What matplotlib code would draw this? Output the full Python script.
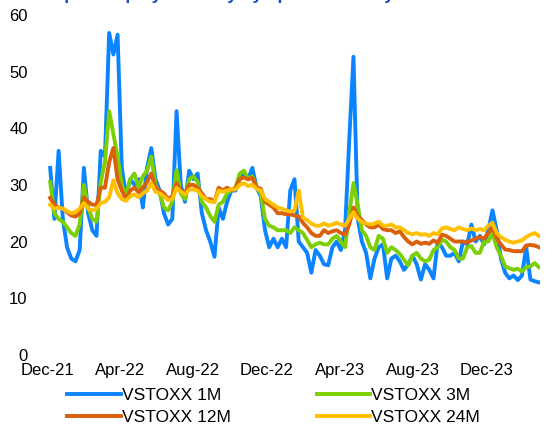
import pandas as pd
import matplotlib
matplotlib.use('Agg')
import matplotlib.pyplot as plt
import matplotlib.dates as mdates

plt.rcParams['font.family'] = ['Liberation Sans', 'DejaVu Sans']

# weekly readings, Dec 2021 - Feb 2024
dates = pd.date_range('2021-12-06', periods=117, freq='7D')

vstoxx_1m = [33, 24, 36, 24, 19, 17, 16.5, 18.5, 33, 25,
             22, 21, 36, 35, 56.8, 53, 56.5, 33, 28, 31,
             30, 31, 26, 33, 36.5, 31, 29, 25, 23, 24,
             43, 30, 27, 32.5, 31, 32, 25, 22, 20, 17.3,
             26, 24, 27, 29, 29, 31, 32, 31, 33, 29.5,
             28, 22, 19, 20.5, 19, 20.5, 19, 29, 31, 20,
             19, 18, 14.5, 18.5, 17.5, 16, 15.8, 19, 20, 18.5,
             22, 38, 52.6, 24, 20, 18, 13.5, 17, 19, 19.5,
             13.5, 17, 17.5, 16.5, 15, 16, 17.5, 16, 13.3, 16,
             15, 13.5, 20, 19, 17.5, 17.5, 18, 16.5, 20, 19.5,
             23, 20, 21, 19.5, 22, 25.5, 22, 17, 14.5, 13.5,
             14, 13.2, 14, 19, 13.3, 13, 12.8]

vstoxx_3m = [30.5, 25, 24, 23.5, 22.5, 21.5, 21, 23, 30, 26,
             24, 23.5, 30.5, 34, 43, 39, 35, 30, 28, 31,
             32, 29.5, 31.5, 32.5, 35, 30, 28.5, 26, 25.5, 27,
             32.6, 28.5, 27.5, 31, 31.5, 30.5, 27, 26, 24.5, 23.5,
             26.5, 27, 28.5, 29, 29.5, 32, 32.5, 31, 31.5, 29.5,
             28.5, 24, 22.8, 22.5, 22, 22, 22, 21.5, 22.5, 22,
             21.5, 20.3, 19, 19.5, 19.8, 19.5, 19.5, 20.5, 21, 20,
             19, 25, 30.3, 26.5, 22, 21, 19, 18.5, 21, 20.5,
             18, 19, 18.5, 17.8, 16.8, 15.8, 17.5, 18, 17, 16.5,
             16.8, 18.5, 19, 20.3, 20, 19, 18.5, 17, 17, 19,
             19.2, 18, 18, 20, 20, 21.5, 19, 17.5, 15.6, 15.3,
             15, 15.2, 14.7, 15.5, 15.6, 16.2, 15.5]

vstoxx_12m = [27.7, 26.5, 26, 25.8, 25.2, 24.6, 24.4, 25, 27.8, 27,
              26.5, 26.5, 29.5, 29.5, 34, 36.5, 31, 29, 27.5, 29,
              29.5, 28.7, 29.5, 30.5, 32, 29.5, 29, 28.5, 27.5, 28,
              30.3, 29, 28.5, 30, 30, 29.5, 28.5, 27.5, 27.5, 27,
              29.5, 29, 29.5, 29, 29.5, 31, 31.3, 31, 31.2, 29.6,
              29.3, 27, 26.5, 26, 25, 25, 24.8, 24.8, 24.6, 24.4,
              23.3, 22.5, 21.5, 21, 21, 22, 21.5, 21.8, 22, 21.5,
              21.2, 23, 26, 24.5, 23.8, 23, 22.5, 22.5, 23, 22.2,
              22, 22, 21.5, 21.8, 20.8, 20, 19.5, 20, 19.6, 19.8,
              19.6, 20.2, 19.8, 21.2, 21, 20.5, 20, 20, 20, 19.8,
              20.2, 20.5, 20.8, 20.5, 21.5, 22.5, 20.5, 19.5, 18.6, 18.5,
              18.3, 18.3, 18.3, 19.3, 19.4, 19.3, 19]

vstoxx_24m = [26.5, 25.8, 26, 25.8, 25.4, 25, 25.2, 25.8, 26.8, 25.8,
              25.5, 25.8, 26.8, 27, 27.8, 30.8, 28.5, 27.5, 27.2, 28,
              28.3, 27.8, 28.5, 29, 30.3, 28.8, 28.5, 28, 27.3, 27.5,
              29.5, 28.8, 28.3, 29.2, 29.2, 29, 28, 27.5, 27, 27,
              29, 28.8, 29, 29.2, 29.2, 30, 30.3, 29.8, 30, 29.3,
              29, 27.5, 27, 26.5, 26, 25.8, 25.5, 25.3, 25.5, 29,
              24.2, 23.8, 23.2, 22.8, 22.8, 23.2, 22.8, 23, 23.3, 23,
              22.8, 24, 25.2, 24, 23.5, 23.2, 23, 23.2, 23.5, 22.8,
              22.8, 23, 22.5, 22.5, 22, 21.5, 21.3, 21.5, 21.2, 21.3,
              21, 21.5, 21.3, 22.3, 22.5, 22.2, 22, 22.5, 22.2, 22,
              22.3, 22, 22.2, 22, 22.8, 23.3, 21.5, 20.8, 20.3, 20,
              19.8, 20, 20.2, 20.8, 21.2, 21.5, 21]

labels = ['VSTOXX 1M', 'VSTOXX 3M', 'VSTOXX 12M', 'VSTOXX 24M']
colors = ['#0a84ff', '#7ccf00', '#dc5f0a', '#ffc000']

fig = plt.figure(figsize=(5.55, 4.24), dpi=100)
ax = fig.add_axes([0.085, 0.163, 0.888, 0.802])

series = [vstoxx_1m, vstoxx_3m, vstoxx_12m, vstoxx_24m]
lines = []
for vals, lab, col in zip(series, labels, colors):
    ln, = ax.plot(dates, vals, color=col, lw=2.8, label=lab, solid_joinstyle='round')
    lines.append(ln)

ax.set_ylim(0, 60)
ax.set_yticks(range(0, 61, 10))
ax.set_xlim(pd.Timestamp('2021-12-01'), pd.Timestamp('2024-02-28'))
ax.set_xticks(pd.date_range('2021-12-01', '2023-12-01', freq='4MS'))
ax.xaxis.set_major_formatter(mdates.DateFormatter('%b-%y'))
ax.tick_params(length=0, labelsize=12)
ax.tick_params(axis='y', pad=14)
ax.tick_params(axis='x', pad=6)
for s in ax.spines.values():
    s.set_visible(False)

# title is cut off at the top in the original
fig.text(0.08, 1.0, 'Implied equity volatility by option maturity',
         color='#0b4fc0', fontsize=12.5, fontweight='bold', va='baseline')

# row-wise order: 1M, 3M / 12M, 24M
order = [0, 2, 1, 3]
fig.legend([lines[i] for i in order], [labels[i] for i in order],
           loc='center', bbox_to_anchor=(0.493, 0.041), ncol=2, frameon=False,
           fontsize=12.5, handlelength=3.1, handletextpad=0.05,
           columnspacing=4.95, labelspacing=0.42)

fig.savefig('out.png', dpi=100)
